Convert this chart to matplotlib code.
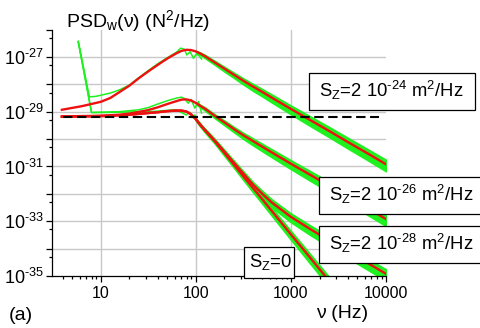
import numpy as np
import matplotlib
matplotlib.use("Agg")
import matplotlib.pyplot as plt
from matplotlib.patches import Rectangle
from matplotlib.ticker import FixedLocator, FuncFormatter, NullFormatter

plt.rcParams['font.family'] = ['Liberation Sans', 'DejaVu Sans']
plt.rcParams['mathtext.fontset'] = 'custom'
plt.rcParams['mathtext.rm'] = 'Liberation Sans'
plt.rcParams['mathtext.it'] = 'Liberation Sans'
plt.rcParams['mathtext.default'] = 'regular'

# fit curves, frequency in Hz, PSD as log10(N^2/Hz)
nu_fit = [3.9, 6.3, 10, 12.6, 15.8, 20, 25.1, 31.6, 39.8, 50.1, 63.1, 70.8, 79.4, 89.1,
          100, 112, 126, 158, 200, 251, 316, 398, 501, 631, 1000, 1585, 2512, 3981, 6310, 10000]
fit_sz24 = [-28.93, -28.80, -28.64, -28.50, -28.28, -28.05, -27.78, -27.53, -27.29, -27.06,
            -26.86, -26.78, -26.74, -26.75, -26.80, -26.88, -26.98, -27.20, -27.43, -27.65,
            -27.87, -28.08, -28.28, -28.49, -28.90, -29.30, -29.70, -30.11, -30.51, -30.92]
fit_sz26 = [-29.18, -29.16, -29.15, -29.13, -29.11, -29.07, -29.01, -28.94, -28.84, -28.72,
            -28.61, -28.56, -28.55, -28.59, -28.68, -28.79, -28.90, -29.15, -29.39, -29.63,
            -29.86, -30.07, -30.28, -30.49, -30.90, -31.30, -31.70, -32.11, -32.51, -32.92]
fit_sz28 = [-29.18, -29.17, -29.16, -29.15, -29.13, -29.11, -29.08, -29.05, -29.02, -28.98,
            -28.96, -28.96, -28.99, -29.09, -29.27, -29.48, -29.68, -30.05, -30.46, -30.86,
            -31.26, -31.66, -32.00, -32.32, -32.84, -33.28, -33.70, -34.11, -34.51, -34.92]
fit_sz0 = [-29.18, -29.17, -29.16, -29.15, -29.13, -29.11, -29.08, -29.05, -29.02, -28.98,
           -28.96, -28.96, -29.00, -29.10, -29.28, -29.50, -29.70, -30.08, -30.51, -30.93,
           -31.36, -31.78, -32.20, -32.63, -33.48, -34.32, -35.17, -36.00, -36.85, -37.70]

# spread of the measured spectra around the fit above 100 Hz (decades)
spread_up = [0, 0, 0, 0, 0, 0, 0, 0, 0, 0, 0, 0, 0, 0,
             0.03, 0.04, 0.05, 0.06, 0.07, 0.08, 0.09, 0.10, 0.11, 0.12, 0.13, 0.14, 0.15, 0.16, 0.16, 0.17]
spread_dn = [0, 0, 0, 0, 0, 0, 0, 0, 0, 0, 0, 0, 0, 0,
             0.05, 0.06, 0.08, 0.09, 0.11, 0.12, 0.14, 0.16, 0.17, 0.18, 0.20, 0.22, 0.23, 0.24, 0.25, 0.26]

# measured spectra below ~120 Hz
nu_meas_24 = [5.8, 7.6, 8.9, 10, 12.6, 15.8, 20, 25.1, 31.6, 39.8, 50.1, 63.1, 69.2, 75.9,
              80.4, 87.1, 94.4, 100, 107, 115]
meas_24 = [-26.44, -28.46, -28.44, -28.40, -28.32, -28.20, -28.03, -27.76, -27.50, -27.25,
           -27.03, -26.82, -26.68, -26.72, -26.93, -26.81, -27.05, -26.92, -26.93, -27.08]
nu_meas_26 = [5.8, 8.0, 10, 15.8, 25.1, 31.6, 39.8, 50.1, 63.1, 70.8, 75.9, 83.2, 89.1, 97.7, 107, 115]
meas_26 = [-26.44, -29.03, -29.02, -29.00, -28.93, -28.85, -28.72, -28.60, -28.50, -28.47,
           -28.52, -28.69, -28.55, -28.87, -28.63, -29.05]
nu_meas_28 = [5.8, 8.0, 10, 15.8, 25.1, 31.6, 39.8, 50.1, 60.3, 66.1, 72.4, 79.4, 85.1, 91.2,
              97.7, 105, 112]
meas_28 = [-26.44, -29.03, -29.03, -29.02, -29.00, -29.00, -28.98, -28.95, -28.93, -28.98,
           -29.05, -29.12, -29.02, -29.22, -29.12, -29.35, -29.45]

white_level = 6.5e-30
white_range = [4.0, 8500]

fig = plt.figure(figsize=(4.8, 3.28), dpi=100, facecolor='white')
ax = fig.add_axes([0.1083, 0.1585, 0.6958, 0.7515])

green = '#1ff01f'
red = '#ee1111'
nu = np.array(nu_fit)
up = np.array(spread_up)
dn = np.array(spread_dn)
band = nu >= 100

for fit in [fit_sz24, fit_sz26, fit_sz28, fit_sz0]:
    f = np.array(fit)
    ax.fill_between(nu, 10**(f + up), 10**(f - dn), where=band, color=green, lw=1.0, zorder=2)

ax.plot(nu_meas_24, 10**np.array(meas_24), color=green, lw=1.1, zorder=2)
ax.plot(nu_meas_26, 10**np.array(meas_26), color=green, lw=1.1, zorder=2)
ax.plot(nu_meas_28, 10**np.array(meas_28), color=green, lw=1.1, zorder=2)

for fit in [fit_sz24, fit_sz26, fit_sz28, fit_sz0]:
    ax.plot(nu, 10**np.array(fit), color=red, lw=1.7, zorder=3)

ax.plot(white_range, [white_level, white_level], color='black', lw=1.5,
        linestyle=(0, (4.5, 2.2)), zorder=4)

ax.set_xscale('log')
ax.set_yscale('log')
ax.set_xlim(3.07, 10000)
ax.set_ylim(1e-35, 1e-26)

for xv in [10, 100, 1000]:
    ax.axvline(xv, color='#c8c8c8', lw=1.0, zorder=1)
for e in range(-34, -26):
    ax.axhline(10.0**e, color='#c8c8c8', lw=1.0, zorder=1)

ax.spines['top'].set_visible(False)
ax.spines['right'].set_visible(False)
ax.spines['left'].set_linewidth(0.9)
ax.spines['bottom'].set_linewidth(0.9)

ydec = [10.0**e for e in range(-35, -25)]
ax.yaxis.set_major_locator(FixedLocator(ydec))
ax.yaxis.set_minor_locator(FixedLocator([5 * 10.0**e for e in range(-35, -26)]))
ax.yaxis.set_major_formatter(FuncFormatter(
    lambda v, p: '$10^{\u2010%d}$' % -round(np.log10(v)) if round(np.log10(v)) % 2 else ''))
ax.yaxis.set_minor_formatter(NullFormatter())
ax.xaxis.set_major_locator(FixedLocator([10, 100, 1000, 10000]))
ax.xaxis.set_minor_locator(FixedLocator([m * 10.0**d for d in range(0, 4) for m in range(2, 10)]))
ax.xaxis.set_major_formatter(FuncFormatter(lambda v, p: '%d' % v))
ax.xaxis.set_minor_formatter(NullFormatter())
ax.tick_params(axis='y', which='major', length=4, width=0.9, labelsize=13, pad=2)
ax.tick_params(axis='y', which='minor', length=2.5, width=0.9)
ax.tick_params(axis='x', which='major', length=4, width=0.9, labelsize=11.5, pad=3)
ax.tick_params(axis='x', which='minor', length=2, width=0.9)


def px(x, y):
    return x / 480, 1 - y / 328


fig.text(*px(66, 21), r'PSD$_w$(ν) (N$^2$/Hz)', fontsize=14, va='center', ha='left')
fig.text(*px(342, 314), 'ν (Hz)', fontsize=14, va='center', ha='center')
fig.text(*px(9, 315), '(a)', fontsize=14, va='center', ha='left')

# boxed labels: (left, top, right, bottom) in pixels, text
boxes = [((309, 73, 475, 110), 'S$_Z$=2 10$^{\u201024}$ m$^2$/Hz'),
         ((319, 177, 484, 214), 'S$_Z$=2 10$^{\u201026}$ m$^2$/Hz'),
         ((319, 226, 484, 263), 'S$_Z$=2 10$^{\u201028}$ m$^2$/Hz'),
         ((244, 247, 294, 278), 'S$_Z$=0')]
for (x0, y0, x1, y1), label in boxes:
    fx0, fy1 = px(x0, y1)
    fx1, fy0 = px(x1, y0)
    fig.add_artist(Rectangle((fx0, fy1), fx1 - fx0, fy0 - fy1, transform=fig.transFigure,
                             facecolor='white', edgecolor='black', lw=0.9, zorder=5))
    fig.text(*px(x0 + (10 if x1 - x0 > 100 else 5), (y0 + y1) / 2 - 1), label,
             fontsize=13.3, va='center', ha='left', zorder=6)

fig.savefig('out.png', dpi=100)
